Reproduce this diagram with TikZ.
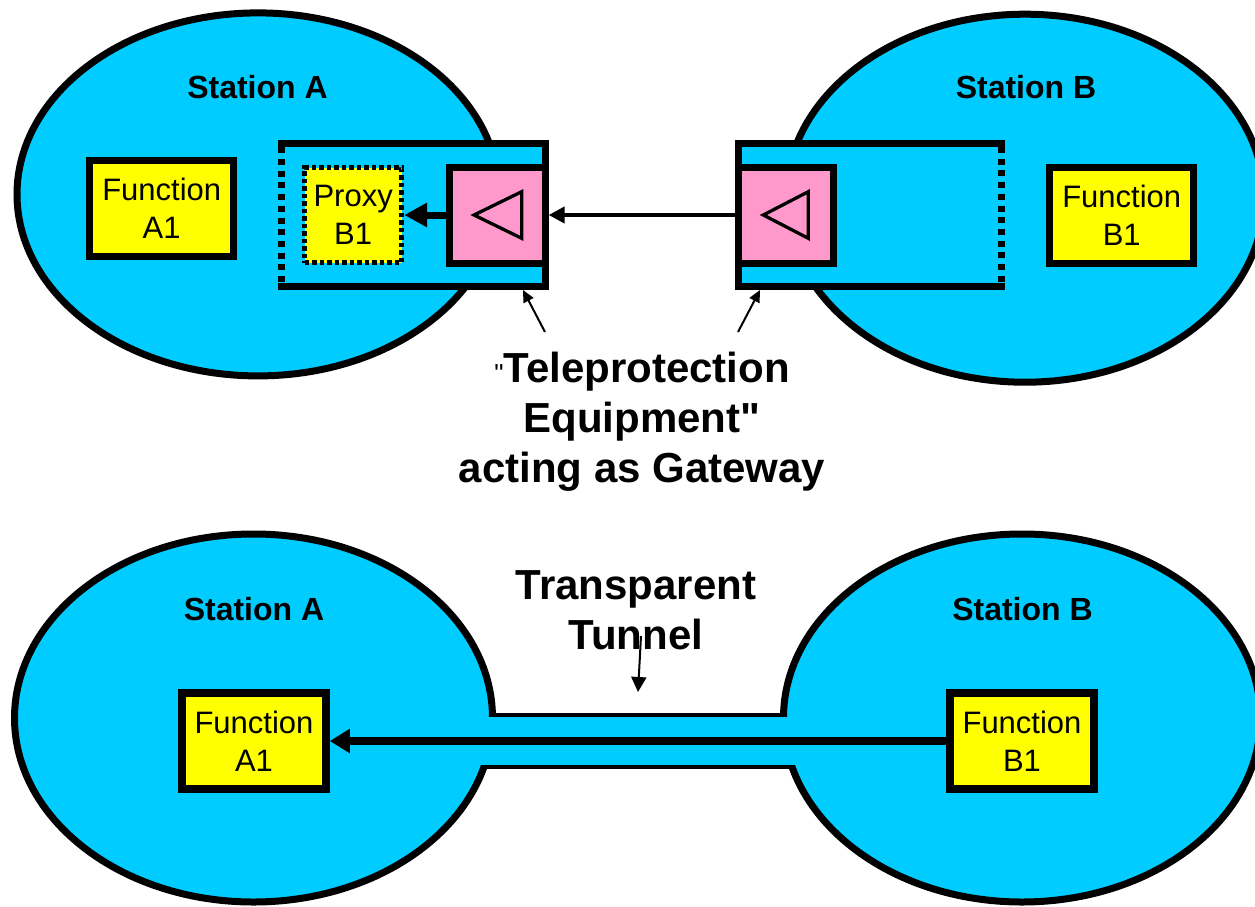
\documentclass[tikz,border=0pt]{standalone}
\usepackage{fontspec}
\setmainfont{Liberation Sans}[Ligatures=TeXOff]
\usepackage{tikz}
\usetikzlibrary{shapes,arrows.meta,positioning}
\definecolor{stationblue}{HTML}{00CCFF}
\definecolor{relaypink}{HTML}{FF99CC}
\definecolor{funcyellow}{HTML}{FFFF00}
\newcommand{\fnsize}{\fontsize{31}{38}\selectfont}
\newcommand{\lblsize}{\fontsize{32}{38}\selectfont\bfseries}
\newcommand{\bigsize}{\fontsize{42}{50}\selectfont\bfseries}
\tikzset{
    station/.style = { draw, ellipse, fill=stationblue, line width=7pt,
        inner sep=0pt
    },
    func/.style = { draw, rectangle, fill=funcyellow, line width=7.5pt,
        align=center, inner sep=0pt,
        minimum width=144pt, minimum height=96pt,
        font=\fnsize
    },
    proxy/.style = { draw, rectangle, fill=funcyellow, line width=5pt,
        dash pattern=on 4.5pt off 3pt,
        align=center, inner sep=0pt,
        minimum width=97pt, minimum height=95pt,
        font=\fnsize
    },
    relay/.style = { draw, rectangle, fill=relaypink, line width=7pt,
        minimum width=95.5pt, minimum height=96pt
    },
    gate/.style = { rectangle, fill=stationblue, inner sep=0pt, outer sep=0pt,
        minimum width=263.6pt, minimum height=143pt
    },
    gwline/.style = { line width=7pt, line join=miter },
    gwdots/.style = { line width=6.5pt, dash pattern=on 6pt off 5.7pt },
    tri/.style = { line width=3.3pt, line join=miter },
    lbl/.style = { anchor=base, font=\lblsize, inner sep=0pt },
    bigtxt/.style = { anchor=north, align=center, font=\bigsize, inner sep=0pt },
    link/.style = { -{Triangle[length=16pt,width=16pt]}, line width=4pt },
    feed/.style = { -{Triangle[length=23pt,width=23pt]}, line width=7pt },
    pointer/.style = { -{Triangle[length=12pt,width=11pt]}, line width=2pt }
}

\begin{document}
\begin{tikzpicture}[x=1pt, y=-1pt]
    \useasboundingbox (0,0) rectangle (1255,907);

    % gateway case...
    \node[station, minimum width=482pt, minimum height=363pt] (stA) at (258,194.4) {};
    \node[station, minimum width=478pt, minimum height=368pt] (stB) at (1025,198.2) {};
    \node[lbl] (nA) at (257.5,98) {Station A};
    \node[lbl] (nB) at (1026,98) {Station B};

    \node[gate] (gwA) at (413.5,215.3) {};
    \draw[gwline] ([xshift=-3.3pt]gwA.north west) -- (gwA.north east) -- (gwA.south east) -- ([xshift=-3.3pt]gwA.south west);
    \draw[gwdots] ([yshift=-3.5pt]gwA.north west) -- ([yshift=3.5pt]gwA.south west);
    \node[gate] (gwB) at (869.9,215) {};
    \draw[gwline] ([xshift=3.3pt]gwB.north east) -- (gwB.north west) -- (gwB.south west) -- ([xshift=3.3pt]gwB.south east);
    \draw[gwdots] ([yshift=-3.5pt]gwB.north east) -- ([yshift=3.5pt]gwB.south east);

    \node[relay] (pA) at (497.4,215) {};
    \draw[tri, shift={(pA.center)}] (-23.4,0) -- (24.3,-23.3) -- (24.3,23.3) -- cycle;
    \node[relay] (pB) at (785.8,215) {};
    \draw[tri, shift={(pB.center)}] (-22.5,0) -- (22.5,-23.3) -- (22.5,23.3) -- cycle;

    \node[proxy] (prB) [left=42pt of pA] {Proxy\\B1};
    \node[func] (fA) at (161.7,208.3) {Function\\A1};
    \node[func] (fB) at (1121.7,215.3) {Function\\B1};

    \draw[link] (pB.west) -- (pA.east);
    \draw[feed] (pA.west) -- (prB.east);

    \node[bigtxt] (gwtxt) at (642,352) {{\fontsize{26}{26}\selectfont\mdseries"}Teleprotection\\Equipment"\\acting as Gateway};
    \coordinate (sA) at (545,332);
    \coordinate (tA) at (523,290);
    \coordinate (sB) at (738,332);
    \coordinate (tB) at (760,290);
    \draw[pointer] (sA) -- (tA);
    \draw[pointer] (sB) -- (tB);

    % tunnel case...
    \node[station, minimum width=478pt, minimum height=368pt] (stA2) at (253.5,718) {};
    \node[station, minimum width=477pt, minimum height=368pt] (stB2) at (1022,718) {};
    \node[lbl] (nA2) at (254,620) {Station A};
    \node[lbl] (nB2) at (1022.5,620) {Station B};

    \fill[stationblue] (480,716.7) rectangle (800,765);
    \draw[line width=4pt] (492.5,714.7) -- (783,714.7);
    \draw[line width=4pt] (484,767) -- (791.6,767);

    \node[func] (fA2) at (254,741) {Function\\A1};
    \node[func] (fB2) at (1022,741) {Function\\B1};
    \draw[-{Triangle[length=20pt,width=23pt]}, line width=8pt] (fB2.west) -- (fA2.east);

    \node[bigtxt] (tuntxt) at (636,570) {Transparent\\Tunnel};
    \coordinate (sT) at (641,636);
    \coordinate (tT) at (638,692);
    \draw[-{Triangle[length=15pt,width=15pt]}, line width=2pt] (sT) -- (tT);
\end{tikzpicture}
\end{document}
